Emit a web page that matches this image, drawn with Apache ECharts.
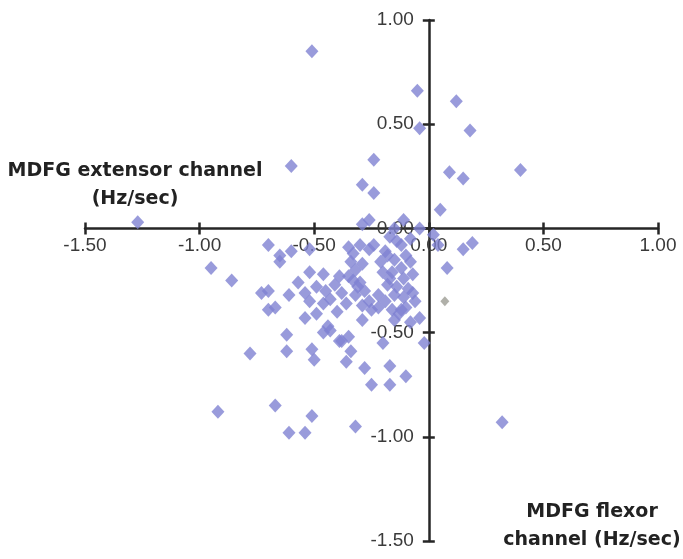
<!DOCTYPE html>
<html>
<head>
<meta charset="utf-8">
<script src="https://cdn.jsdelivr.net/npm/echarts@6/dist/echarts.min.js"></script>
<style>
  html, body { margin: 0; padding: 0; background: #fff; }
  #main { width: 683px; height: 559px; }
</style>
</head>
<body>
<div id="main"></div>
<script>
// flexor (x) vs extensor (y) MDFG, Hz/sec
const flexor = [
  -0.51, -0.05, 0.12, -0.04, 0.18, -0.60, -0.24, -0.29, -0.24, 0.09, 0.15, 0.40, 0.05, -1.27,
  -0.29, -0.26, -0.11, -0.15, -0.04, 0.02, 0.04, 0.08, 0.15, 0.19,
  -0.95, -0.86, -0.70, -0.65, -0.60, -0.65, -0.52, -0.52, -0.57, -0.46, -0.73, -0.70, -0.61, -0.54,
  -0.49, -0.70, -0.67, -0.78, -0.62, -0.62, -0.54, -0.49, -0.51, -0.50, -0.46, -0.43, -0.46, -0.43,
  -0.35, -0.30, -0.26, -0.18, -0.12, -0.10, -0.34, -0.29, -0.16, -0.12, -0.35, -0.30, -0.33, -0.18,
  -0.11, -0.09, -0.41, -0.38, -0.32, -0.28, -0.22, -0.15, -0.14, -0.19, -0.15, -0.21, -0.32, -0.20,
  -0.07, -0.11, -0.36, -0.39,
  -0.29, -0.25, -0.22, -0.29, -0.16, -0.12, -0.13, -0.10, -0.04, -0.02, -0.39, -0.35, -0.34, -0.36,
  -0.28, -0.25, -0.17, -0.17, -0.10, -0.20, -0.44, -0.38,
  -0.33, -0.24, -0.17, -0.08, -0.08, -0.07, -0.31, -0.17, -0.14, -0.06, -0.26, -0.19, -0.15, -0.08,
  -0.45, -0.52, -0.40,
  -0.92, -0.67, -0.61, -0.54, -0.51, -0.32, 0.32
];
const extensor = [
  0.85, 0.66, 0.61, 0.48, 0.47, 0.30, 0.33, 0.21, 0.17, 0.27, 0.24, 0.28, 0.09, 0.03,
  0.02, 0.04, 0.04, 0.00, 0.00, -0.03, -0.08, -0.19, -0.10, -0.07,
  -0.19, -0.25, -0.08, -0.13, -0.11, -0.16, -0.10, -0.21, -0.26, -0.22, -0.31, -0.30, -0.32, -0.31,
  -0.28, -0.39, -0.38, -0.60, -0.51, -0.59, -0.43, -0.41, -0.58, -0.63, -0.50, -0.49, -0.36, -0.34,
  -0.09, -0.08, -0.10, -0.13, -0.08, -0.13, -0.16, -0.17, -0.21, -0.19, -0.23, -0.26, -0.25, -0.27,
  -0.24, -0.29, -0.27, -0.31, -0.32, -0.30, -0.32, -0.32, -0.06, -0.11, -0.15, -0.16, -0.20, -0.21,
  -0.31, -0.33, -0.36, -0.23,
  -0.44, -0.39, -0.38, -0.37, -0.39, -0.39, -0.41, -0.38, -0.43, -0.55, -0.54, -0.52, -0.59, -0.64,
  -0.67, -0.75, -0.75, -0.66, -0.71, -0.55, -0.47, -0.54,
  -0.12, -0.08, -0.04, -0.05, -0.16, -0.22, -0.28, -0.24, -0.28, -0.35, -0.35, -0.35, -0.44, -0.45,
  -0.30, -0.35, -0.40,
  -0.88, -0.85, -0.98, -0.98, -0.90, -0.95, -0.93
];
// the single grey point
const outlierX = [0.07];
const outlierY = [-0.35];

const axisMin = -1.5, axisMax = 1.0, step = 0.5;

const pts = flexor.map((x, i) => [x, extensor[i]]);
const grey = outlierX.map((x, i) => [x, outlierY[i]]);

// grid box, and where zero falls inside it (axes cross at 0,0)
const W = 683, H = 559;
const gl = 85, gr = 25, gt = 20, gb = 18;
const gw = W - gl - gr, gh = H - gt - gb;
const zeroFrac = (0 - axisMin) / (axisMax - axisMin);
const xOff = -(gh * zeroFrac);   // move bottom axis up to y = 0
const yOff = -(gw * zeroFrac);   // move left axis right to x = 0

const lineStyle = { color: '#262626', width: 2.5 };
const labelStyle = { color: '#3a3a3a', fontFamily: 'Liberation Sans, Arial, sans-serif', fontSize: 19,
  formatter: v => v.toFixed(2) };

const valueAxis = (extra) => Object.assign({
  type: 'value', min: axisMin, max: axisMax, interval: step,
  splitLine: { show: false }
}, extra);

const chart = echarts.init(document.getElementById('main'));
chart.setOption({
  animation: false,
  backgroundColor: '#fff',
  grid: { left: gl, right: gr, top: gt, bottom: gb },
  xAxis: [
    valueAxis({
      position: 'bottom', offset: xOff,
      axisLine: { onZero: false, lineStyle },
      axisTick: { length: 6, lineStyle },
      axisLabel: Object.assign({ margin: 8 }, labelStyle)
    }),
    // second copy only to make the ticks cross the line
    valueAxis({
      position: 'bottom', offset: xOff,
      axisLine: { show: false, onZero: false },
      axisTick: { inside: true, length: 6, lineStyle },
      axisLabel: { show: false }
    })
  ],
  yAxis: [
    valueAxis({
      position: 'left', offset: yOff,
      axisLine: { onZero: false, lineStyle },
      axisTick: { length: 6, lineStyle },
      axisLabel: Object.assign({ margin: 15 }, labelStyle)
    }),
    valueAxis({
      position: 'left', offset: yOff,
      axisLine: { show: false, onZero: false },
      axisTick: { inside: true, length: 6, lineStyle },
      axisLabel: { show: false }
    })
  ],
  series: [
    {
      type: 'scatter', xAxisIndex: 0, yAxisIndex: 0,
      symbol: 'diamond', symbolSize: [13, 14],
      itemStyle: { color: '#7f82d2' },
      data: pts
    },
    {
      type: 'scatter', xAxisIndex: 0, yAxisIndex: 0,
      symbol: 'diamond', symbolSize: [9, 10],
      itemStyle: { color: '#9c9c94' },
      data: grey
    }
  ],
  graphic: [
    {
      type: 'text', x: 135, y: 185,
      style: {
        text: 'MDFG extensor channel\n(Hz/sec)', align: 'center', verticalAlign: 'middle',
        fill: '#222', font: 'bold 19px "DejaVu Sans", sans-serif', lineHeight: 28
      }
    },
    {
      type: 'text', x: 592, y: 526,
      style: {
        text: 'MDFG flexor\nchannel (Hz/sec)', align: 'center', verticalAlign: 'middle',
        fill: '#222', font: 'bold 19px "DejaVu Sans", sans-serif', lineHeight: 28
      }
    }
  ]
});
</script>
</body>
</html>
